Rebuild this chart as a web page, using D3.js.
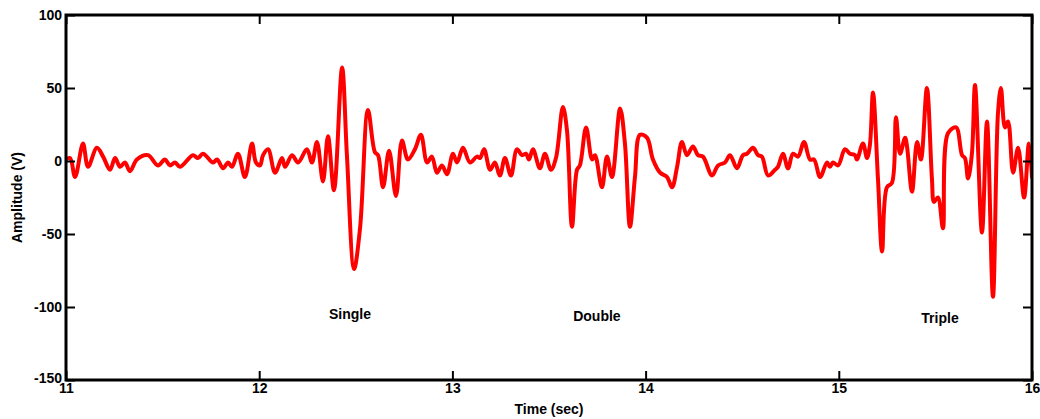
<!DOCTYPE html>
<html><head><meta charset="utf-8">
<script src="https://cdn.jsdelivr.net/npm/d3@7"></script>
<style>
html,body{margin:0;padding:0;background:#fff;}
text{font-family:"Liberation Sans",Arial,sans-serif;font-weight:bold;}
</style></head>
<body><svg id="c" width="1040" height="419"></svg>
<script>
const timeSec = [11.000,11.021,11.047,11.088,11.114,11.160,11.192,11.228,11.254,11.280,11.305,11.331,11.367,11.424,11.476,11.512,11.538,11.564,11.590,11.657,11.683,11.709,11.761,11.782,11.813,11.839,11.859,11.890,11.926,11.963,11.983,12.004,12.020,12.046,12.082,12.118,12.134,12.170,12.201,12.247,12.273,12.299,12.330,12.356,12.387,12.429,12.454,12.491,12.522,12.563,12.599,12.615,12.641,12.672,12.708,12.739,12.770,12.806,12.837,12.869,12.894,12.920,12.946,12.972,13.003,13.024,13.055,13.091,13.127,13.143,13.164,13.195,13.220,13.246,13.272,13.303,13.334,13.360,13.381,13.396,13.417,13.453,13.479,13.510,13.536,13.572,13.593,13.619,13.645,13.660,13.692,13.723,13.738,13.774,13.800,13.826,13.868,13.893,13.919,13.945,13.971,14.007,14.038,14.075,14.111,14.137,14.163,14.188,14.214,14.245,14.271,14.297,14.344,14.375,14.411,14.437,14.473,14.504,14.525,14.556,14.582,14.602,14.634,14.670,14.685,14.711,14.737,14.763,14.789,14.820,14.851,14.872,14.903,14.939,14.954,14.970,14.996,15.032,15.058,15.084,15.094,15.125,15.146,15.161,15.177,15.203,15.224,15.249,15.275,15.296,15.317,15.343,15.353,15.379,15.405,15.425,15.456,15.482,15.493,15.513,15.539,15.565,15.607,15.638,15.653,15.669,15.689,15.705,15.741,15.767,15.798,15.824,15.839,15.860,15.876,15.902,15.928,15.959,15.984,16.000];
const amplitude = [1,2,-11,12,-4,9,3,-6,2,-4,-1,-7,1,4,-3,1,-3,-1,-4,4,2,5,-1,1,-5,-1,-4,5,-11,12,-1,-3,4,8,-8,2,-4,4,-1,8,-1,13,-14,17,-20,64,4,-74,-46,35,6,4,-18,7,-24,14,1,8,18,-1,3,-8,-3,-9,5,-1,9,-1,3,2,8,-6,-1,-10,2,-10,8,4,5,1,8,-5,5,-6,2,37,21,-45,-6,-3,23,1,4,-18,3,-11,36,12,-45,-11,18,16,1,-8,-11,-18,-4,13,4,10,4,3,-10,-3,-1,4,-5,4,5,9,4,3,-10,-6,-4,5,-5,5,3,13,1,1,-11,-1,-4,-1,-3,8,5,4,1,12,2,11,47,-13,-62,-18,-15,30,5,16,10,-21,13,1,50,-12,-28,-25,-46,19,23,4,2,-12,5,52,-49,27,-93,33,50,23,27,-8,9,-25,12,-11];
const xTicks = [11,12,13,14,15,16];
const yTicks = [-150,-100,-50,0,50,100];
const annotLabels = ["Single","Double","Triple"];
const annotTime = [12.47,13.748,15.524];
const annotAmp = [-108,-109.6,-111];

const W=1040,H=419, m={l:66,t:15,r:8,b:39};
const svg=d3.select("#c");
const x=d3.scaleLinear().domain([11,16]).range([m.l,W-m.r]);
const y=d3.scaleLinear().domain([-150,100]).range([H-m.b,m.t]);
const data=timeSec.map((t,i)=>({t,v:amplitude[i]}));

svg.append("defs").append("clipPath").attr("id","clip").append("rect")
  .attr("x",m.l).attr("y",m.t).attr("width",W-m.l-m.r).attr("height",H-m.t-m.b);

svg.append("path").datum(data).attr("clip-path","url(#clip)")
  .attr("fill","none").attr("stroke","#ff0000").attr("stroke-width",4)
  .attr("stroke-linejoin","round").attr("stroke-linecap","round")
  .attr("d",d3.line().x(d=>x(d.t)).y(d=>y(d.v)).curve(d3.curveCatmullRom.alpha(0.5)));

const tl=9;
const fmt=d=>String(d);
const gb=svg.append("g").attr("transform",`translate(0,${H-m.b})`)
  .call(d3.axisBottom(x).tickValues(xTicks).tickFormat(fmt).tickSize(-tl).tickPadding(6));
const gt=svg.append("g").attr("transform",`translate(0,${m.t})`)
  .call(d3.axisTop(x).tickValues(xTicks).tickFormat("").tickSize(-tl));
const gl=svg.append("g").attr("transform",`translate(${m.l},0)`)
  .call(d3.axisLeft(y).tickValues(yTicks).tickFormat(fmt).tickSize(-tl).tickPadding(4));
const gr=svg.append("g").attr("transform",`translate(${W-m.r},0)`)
  .call(d3.axisRight(y).tickValues(yTicks).tickFormat("").tickSize(-tl));
[gb,gt,gl,gr].forEach(g=>{
  g.select(".domain").remove();
  g.selectAll(".tick line").attr("stroke","#000").attr("stroke-width",2);
  g.selectAll(".tick text").attr("fill","#000").style("font-size","14px").style("font-weight","bold")
   .style("font-family","'Liberation Sans',Arial,sans-serif");
});
gb.selectAll(".tick text").attr("dy","0.5em");
gl.selectAll(".tick text").attr("dy",d=>d===-150?"0.2em":"0.35em");

svg.append("rect").attr("x",m.l).attr("y",m.t).attr("width",W-m.l-m.r).attr("height",H-m.t-m.b)
  .attr("fill","none").attr("stroke","#000").attr("stroke-width",3);

svg.append("text").attr("x",x(13.5)).attr("y",414).attr("text-anchor","middle")
  .style("font-size","14px").text("Time (sec)");
svg.append("text").attr("transform",`translate(22,${y(-25)}) rotate(-90)`).attr("text-anchor","middle")
  .style("font-size","14px").text("Amplitude (V)");

svg.selectAll(".annot").data(annotLabels).enter().append("text").attr("class","annot")
  .attr("x",(d,i)=>x(annotTime[i])).attr("y",(d,i)=>y(annotAmp[i])).attr("text-anchor","middle")
  .style("font-size","14px").text(d=>d);
</script></body></html>
